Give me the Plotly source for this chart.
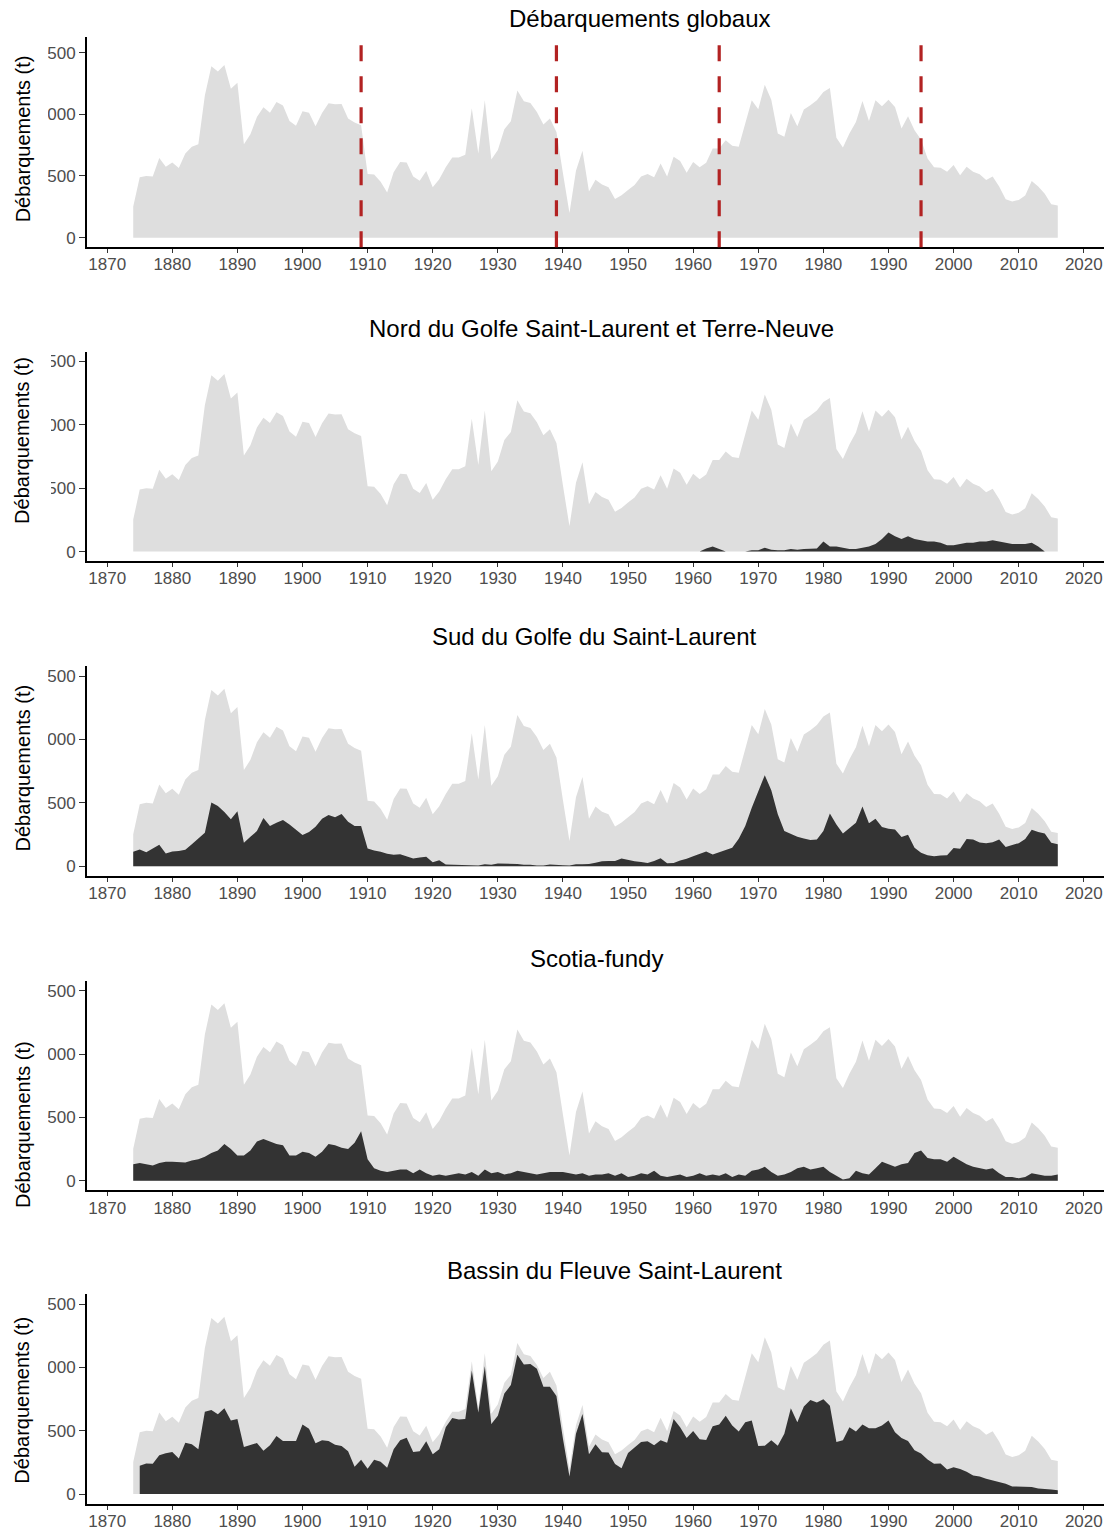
import plotly.graph_objects as go

# Landings (t) by year, 1874-2016
years = list(range(1874, 2017))

global_t = [
    253, 489, 500, 495, 645, 575,
    610, 564, 683, 737, 758, 1153, 1390, 1347, 1400, 1207,
    1255, 758, 839, 978, 1056, 1013, 1099, 1070, 946, 906,
    1024, 1013, 903, 1011, 1089, 1081, 1083, 965, 933, 911,
    516, 511, 454, 366, 530, 613, 610, 495, 462, 540,
    409, 473, 570, 650, 650, 672, 1048, 683, 1113, 634,
    710, 879, 943, 1193, 1105, 1091, 1019, 917, 965, 857,
    521, 199, 543, 704, 374, 470, 430, 409, 314, 344,
    387, 427, 495, 516, 489, 602, 495, 656, 621, 527,
    613, 570, 608, 723, 723, 790, 745, 737, 925, 1113,
    1040, 1239, 1118, 844, 817, 1011, 903, 1038, 1073, 1113,
    1180, 1212, 809, 731, 844, 938, 1107, 946, 1113, 1064,
    1118, 1059, 884, 984, 871, 796, 642, 570, 567, 535,
    589, 505, 575, 535, 513, 468, 495, 414, 312, 293,
    306, 341, 460, 414, 355, 271, 261,
]

nord = [0] * 86 + [
    0, 0, 25, 40, 20, 0, 0, 0, 0, 10,
    10, 30, 15, 10, 10, 20, 15, 20, 20, 25,
    80, 40, 40, 30, 20, 20, 30, 40, 60, 100,
    150, 120, 100, 120, 100, 90, 80, 80, 70, 50,
    50, 60, 70, 70, 80, 80, 90, 80, 70, 60,
    60, 60, 70, 40, 0, 0, 0,
]

sud = [
    114, 132, 111, 137, 169, 100,
    116, 121, 129, 174, 217, 264, 502, 475, 428, 370,
    433, 185, 232, 277, 380, 317, 343, 364, 330, 290,
    246, 269, 312, 375, 404, 386, 412, 351, 317, 317,
    140, 124, 114, 98, 90, 95, 79, 61, 69, 74,
    32, 48, 13, 11, 13, 13, 8, 5, 16, 11,
    21, 21, 21, 18, 11, 11, 5, 5, 13, 13,
    8, 5, 16, 16, 18, 28, 40, 42, 42, 61,
    48, 40, 34, 26, 42, 63, 24, 26, 45, 58,
    79, 98, 116, 92, 111, 127, 145, 217, 317, 462,
    594, 718, 600, 409, 277, 256, 232, 219, 206, 211,
    277, 415, 330, 259, 304, 343, 470, 338, 375, 309,
    296, 290, 230, 248, 145, 106, 87, 79, 85, 87,
    143, 137, 214, 211, 188, 182, 190, 211, 151, 169,
    182, 214, 288, 269, 259, 185, 174,
]

scotia = [
    130, 140, 130, 120, 140, 150,
    150, 150, 145, 160, 170, 190, 220, 240, 290, 250,
    200, 200, 240, 310, 330, 310, 290, 280, 200, 200,
    230, 220, 190, 230, 290, 280, 260, 250, 300, 390,
    170, 100, 80, 70, 80, 90, 90, 60, 90, 60,
    40, 50, 40, 50, 60, 50, 70, 40, 90, 60,
    70, 50, 60, 80, 70, 60, 50, 60, 70, 70,
    70, 60, 50, 60, 40, 50, 50, 60, 40, 60,
    30, 40, 60, 50, 80, 40, 30, 40, 50, 30,
    40, 60, 40, 50, 40, 60, 30, 50, 40, 80,
    90, 110, 70, 40, 50, 70, 100, 110, 90, 100,
    110, 70, 40, 10, 20, 80, 60, 50, 100, 150,
    130, 110, 130, 140, 220, 240, 180, 170, 170, 150,
    190, 160, 130, 110, 100, 90, 100, 60, 30, 30,
    20, 30, 60, 50, 40, 40, 50,
]

bassin = [
    None, 224, 242, 239, 307, 323,
    333, 281, 406, 393, 354, 650, 663, 630, 677, 580,
    593, 372, 390, 403, 341, 385, 458, 419, 419, 419,
    549, 515, 401, 424, 419, 390, 380, 338, 216, 271,
    200, 271, 255, 208, 354, 424, 445, 333, 338, 416,
    315, 354, 528, 601, 588, 593, 976, 645, 1010, 554,
    619, 794, 861, 1101, 1023, 1028, 989, 848, 848, 775,
    437, 138, 476, 632, 315, 393, 330, 328, 237, 203,
    325, 372, 411, 416, 385, 424, 406, 593, 528, 442,
    497, 432, 427, 536, 549, 619, 541, 494, 567, 580,
    380, 382, 424, 382, 476, 677, 567, 692, 742, 723,
    749, 697, 411, 424, 528, 494, 549, 520, 520, 541,
    580, 489, 442, 419, 346, 320, 273, 239, 242, 193,
    211, 198, 177, 146, 138, 120, 107, 91, 81, 60,
    57, 57, 55, 44, 42, 36, 29,
]

# Years of the regime changes marked on the global panel
breaks = [1909, 1939, 1964, 1995]

x_ticks = list(range(1870, 2021, 10))
y_ticks = [0, 500, 1000, 1500]

titles = [
    "Débarquements globaux",
    "Nord du Golfe Saint-Laurent et Terre-Neuve",
    "Sud du Golfe du Saint-Laurent",
    "Scotia-fundy",
    "Bassin du Fleuve Saint-Laurent",
]
regions = [None, nord, sud, scotia, bassin]

W, H = 1112, 1531
GREY = "#DEDEDE"
DARK = "#333333"
FONT = "Liberation Sans, Arial, sans-serif"

# panel geometry in pixels: top, bottom, y-range, title centre (x, y), y-title centre y, label clip edge
panels = [
    dict(top=37.3, bottom=247.5, yr=[-77, 1624], tx=639.5, ty=19, yty=139, clip=48),
    dict(top=352.3, bottom=561.7, yr=[-74, 1575], tx=601.5, ty=329, yty=441, clip=51),
    dict(top=667.0, bottom=877.0, yr=[-76, 1578], tx=594.5, ty=637, yty=769, clip=48),
    dict(top=982.0, bottom=1192.0, yr=[-76, 1578], tx=596.0, ty=960, yty=1126, clip=48),
    dict(top=1295.7, bottom=1506.0, yr=[-79, 1580], tx=614.5, ty=1272, yty=1402, clip=48),
]

X0, X1 = 87, 1104

fig = go.Figure()
layout = dict(
    width=W, height=H,
    margin=dict(l=0, r=0, t=0, b=0),
    paper_bgcolor="white", plot_bgcolor="white",
    showlegend=False,
    font=dict(family=FONT),
    shapes=[], annotations=[],
)

for i, p in enumerate(panels):
    n = i + 1
    xa = "x" if n == 1 else f"x{n}"
    ya = "y" if n == 1 else f"y{n}"

    fig.add_trace(go.Scatter(
        x=years, y=global_t, xaxis=xa, yaxis=ya, mode="lines",
        line=dict(width=0, color=GREY), fill="tozeroy", fillcolor=GREY,
        hoverinfo="skip",
    ))
    reg = regions[i]
    if reg is not None:
        xs = [yv for yv, v in zip(years, reg) if v is not None]
        vs = [v for v in reg if v is not None]
        fig.add_trace(go.Scatter(
            x=xs, y=vs, xaxis=xa, yaxis=ya, mode="lines",
            line=dict(width=0, color=DARK), fill="tozeroy", fillcolor=DARK,
            hoverinfo="skip",
        ))

    dom_y = [1 - p["bottom"] / H, 1 - p["top"] / H]
    xkey = "xaxis" if n == 1 else f"xaxis{n}"
    ykey = "yaxis" if n == 1 else f"yaxis{n}"
    layout[xkey] = dict(
        domain=[X0 / W, X1 / W], anchor=ya, range=[1866.9, 2023.1],
        tickvals=x_ticks, ticktext=[str(t) for t in x_ticks],
        ticks="outside", ticklen=4, tickwidth=1.3, tickcolor="#333333",
        ticklabelstandoff=-3,
        showline=True, linecolor="black", linewidth=1.8,
        showgrid=False, zeroline=False,
        tickfont=dict(size=17, color="#4D4D4D", family=FONT),
    )
    layout[ykey] = dict(
        domain=dom_y, anchor=xa, range=p["yr"],
        tickvals=y_ticks, ticktext=[str(t) for t in y_ticks],
        ticks="outside", ticklen=6, tickwidth=1.3, tickcolor="#333333",
        showline=True, linecolor="black", linewidth=1.8,
        showgrid=False, zeroline=False,
        tickfont=dict(size=17, color="#4D4D4D", family=FONT),
    )

    # the label column is cut at the panel's left edge
    layout["shapes"].append(dict(
        type="rect", xref="paper", yref="paper", layer="above",
        x0=0, x1=p["clip"] / W, y0=dom_y[0] - 0.004, y1=dom_y[1] + 0.012,
        fillcolor="white", line=dict(width=0),
    ))

    layout["annotations"].append(dict(
        text=titles[i], xref="paper", yref="paper",
        x=p["tx"] / W, y=1 - p["ty"] / H, xanchor="center", yanchor="middle",
        showarrow=False, font=dict(size=24, color="black", family=FONT),
    ))
    layout["annotations"].append(dict(
        text="Débarquements (t)", xref="paper", yref="paper",
        x=22.5 / W, y=1 - p["yty"] / H, xanchor="center", yanchor="middle",
        textangle=-90, showarrow=False,
        font=dict(size=20, color="black", family=FONT),
    ))

# dashed markers of the regime changes (global panel)
for b in breaks:
    layout["shapes"].append(dict(
        type="line", xref="x", yref="y domain", x0=b, x1=b, y0=0, y1=1,
        line=dict(color="#B22222", width=3.2, dash="16px,15px"), layer="above",
    ))

fig.update_layout(**layout)
fig.write_html("out.html")
